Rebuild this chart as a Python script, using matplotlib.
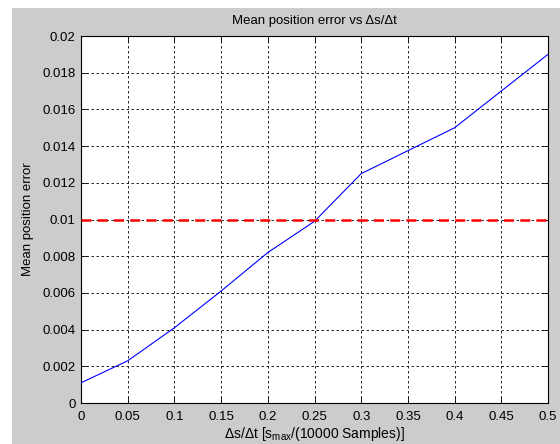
"""Mean position error vs ds/dt, MATLAB-style figure."""

import matplotlib

matplotlib.use("Agg")
import matplotlib.pyplot as plt  # noqa: E402
from matplotlib.patches import Rectangle  # noqa: E402

plt.rcParams["font.family"] = ["Liberation Sans", "DejaVu Sans"]
plt.rcParams["mathtext.fontset"] = "custom"
plt.rcParams["mathtext.rm"] = "Liberation Sans"
plt.rcParams["mathtext.it"] = "Liberation Sans:italic"

step_ratio = [0.0, 0.05, 0.1, 0.15, 0.2, 0.25, 0.3, 0.4, 0.5]
mean_error = [0.0011, 0.0023, 0.0041, 0.0061, 0.0082, 0.0099, 0.0125, 0.0150, 0.0190]
threshold = 0.01
x_ticks = [0, 0.05, 0.1, 0.15, 0.2, 0.25, 0.3, 0.35, 0.4, 0.45, 0.5]
y_ticks = [0, 0.002, 0.004, 0.006, 0.008, 0.01, 0.012, 0.014, 0.016, 0.018, 0.02]

W, H = 560, 444
figure = plt.figure(figsize=(W / 100, H / 100), dpi=100)
figure.patch.set_facecolor("white")
# grey window background, leaving the thin white strip at top/left
figure.patches.append(Rectangle((12 / W, 0), 1, 1 - 8 / H, transform=figure.transFigure,
                                facecolor="#cccccc", edgecolor="none", zorder=-10))

axis = figure.add_axes([81 / W, 1 - 403 / H, (548 - 81) / W, (403 - 36) / H])
axis.set_facecolor("white")
axis.plot(step_ratio, mean_error, color="#0000ff", linewidth=0.8, zorder=3)
axis.axhline(threshold, color="#ff0000", linewidth=1.8, linestyle=(0, (4, 2.5)), zorder=4)

axis.set_xlim(0, 0.5)
axis.set_ylim(0, 0.02)
axis.set_xticks(x_ticks, [f"{v:g}" for v in x_ticks])
axis.set_yticks(y_ticks, [f"{v:g}" for v in y_ticks])
axis.tick_params(direction="in", length=4, width=0.6, top=True, right=True, labelsize=9.5,
                 colors="black")
axis.tick_params(axis="x", pad=5.5)
axis.tick_params(axis="y", pad=4)
axis.grid(True, color="black", linestyle=(0, (3, 3)), linewidth=0.6)
for spine in axis.spines.values():
    spine.set_linewidth(0.8)

axis.set_title("Mean position error vs Δs/Δt", fontsize=9.5, pad=9)
axis.set_xlabel("Δs/Δt [s$_{\\rm max}$/(10000 Samples)]", fontsize=10, labelpad=2)
axis.set_ylabel("Mean position error", fontsize=9.5, labelpad=6)

figure.savefig("out.png", dpi=100, facecolor=figure.get_facecolor())
plt.close(figure)
